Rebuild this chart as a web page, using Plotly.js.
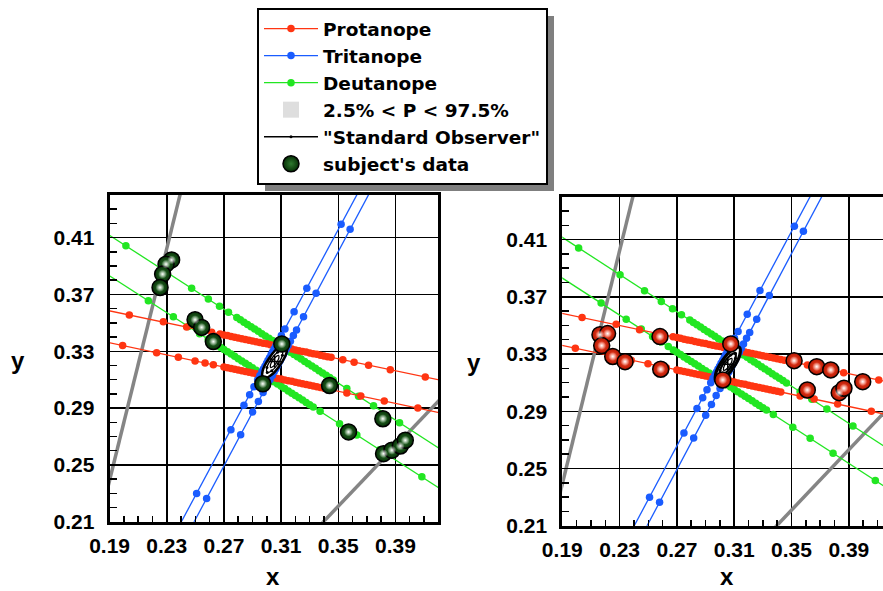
<!DOCTYPE html>
<html><head><meta charset="utf-8">
<script src="https://cdn.plot.ly/plotly-3.0.1.min.js"></script>
<style>html,body{margin:0;padding:0;overflow:hidden;background:#fff}#chart{width:895px;height:591px}</style>
</head><body><div id="chart"></div><script>
// ---------------- data ----------------
const protanUpperX = [0.18, 0.2038, 0.2276, 0.2439, 0.2614, 0.2673,
  0.2700,0.2725,0.2750,0.2775,0.2800,0.2825,0.2850,0.2875,0.2900,0.2925,0.2950,0.2975,0.3000,0.3025,0.3050,0.3075,
  0.3100,0.3125,0.3150,0.3175,0.3200,0.3225,0.3250,0.3275,0.3300,0.3325,0.3350,0.3375,0.3400,0.3425,0.3450,
  0.3532, 0.3611, 0.3712, 0.3864, 0.4109, 0.43];
const protanUpperY = [0.3605, 0.3555, 0.3508, 0.3470, 0.3433, 0.3421,
  0.3415,0.3410,0.3404,0.3399,0.3394,0.3388,0.3383,0.3378,0.3373,0.3367,0.3362,0.3357,0.3352,0.3346,0.3341,0.3336,
  0.3331,0.3325,0.3320,0.3315,0.3309,0.3304,0.3299,0.3294,0.3288,0.3283,0.3278,0.3272,0.3267,0.3262,0.3257,
  0.3240, 0.3223, 0.3202, 0.3170, 0.3118, 0.3078];
const protanLowerX = [0.18, 0.1991, 0.2229, 0.2381, 0.2498, 0.2568, 0.2626,
  0.2700,0.2725,0.2750,0.2775,0.2800,0.2825,0.2850,0.2875,0.2900,0.2925,0.2950,0.2975,0.3000,0.3025,0.3050,0.3075,
  0.3100,0.3125,0.3150,0.3175,0.3200,0.3225,0.3250,0.3275,0.3300,0.3325,0.3350,0.3375,0.3400,0.3425,
  0.3560, 0.3658, 0.3822, 0.4057, 0.43];
const protanLowerY = [0.3381, 0.3340, 0.3289, 0.3257, 0.3232, 0.3217, 0.3205,
  0.3189,0.3184,0.3178,0.3173,0.3168,0.3162,0.3157,0.3152,0.3146,0.3141,0.3136,0.3130,0.3125,0.3120,0.3114,0.3109,
  0.3104,0.3098,0.3093,0.3088,0.3082,0.3077,0.3072,0.3066,0.3061,0.3056,0.3050,0.3045,0.3040,0.3034,
  0.3006, 0.2985, 0.2950, 0.2900, 0.2848];

const tritanLeftX = [0.2349, 0.2509, 0.2749, 0.2840, 0.2880, 0.2910, 0.2936, 0.2952, 0.2966, 0.2976, 0.2987, 0.2998,
  0.3008, 0.3019, 0.3030, 0.3040, 0.3051, 0.3064, 0.3080, 0.3102, 0.3127, 0.3191, 0.3280, 0.3520, 0.3683];
const tritanLeftY = [0.20, 0.2299, 0.2748, 0.2919, 0.2994, 0.3050, 0.3100, 0.3130, 0.3155, 0.3175, 0.3195, 0.3215,
  0.3235, 0.3255, 0.3275, 0.3295, 0.3315, 0.3340, 0.3370, 0.3410, 0.3457, 0.3578, 0.3744, 0.4194, 0.45];
const tritanRightX = [0.2439, 0.2579, 0.2817, 0.2901, 0.2941, 0.2974, 0.3001, 0.3022, 0.3038, 0.3051, 0.3062, 0.3072,
  0.3083, 0.3094, 0.3104, 0.3115, 0.3125, 0.3136, 0.3149, 0.3165, 0.3186, 0.3208, 0.3257, 0.3345, 0.3583, 0.3764];
const tritanRightY = [0.20, 0.2264, 0.2713, 0.2872, 0.2947, 0.3010, 0.3060, 0.3100, 0.3130, 0.3155, 0.3175, 0.3195,
  0.3215, 0.3235, 0.3255, 0.3275, 0.3295, 0.3315, 0.3340, 0.3370, 0.3410, 0.3450, 0.3543, 0.3709, 0.4158, 0.45];

const deutanUpperX = [0.18, 0.2014, 0.2303, 0.2474, 0.2591, 0.2669, 0.2732, 0.2790,
  0.2815,0.2840,0.2865,0.2890,0.2915,0.2940,0.2965,0.2990,0.3015,0.3040,0.3065,0.3090,0.3115,0.3140,
  0.3165,0.3190,0.3215,0.3240,0.3265,0.3290,0.3315,0.3340,0.3365,0.3390,0.3415,0.3440,0.3465,
  0.3560, 0.3642, 0.3747, 0.3929, 0.43];
const deutanUpperY = [0.4181, 0.4042, 0.3854, 0.3743, 0.3667, 0.3616, 0.3575, 0.3538,
  0.3521,0.3505,0.3489,0.3472,0.3456,0.3440,0.3424,0.3407,0.3391,0.3375,0.3359,0.3342,0.3326,0.3310,
  0.3293,0.3277,0.3261,0.3245,0.3228,0.3212,0.3196,0.3180,0.3163,0.3147,0.3131,0.3115,0.3098,
  0.3037, 0.2984, 0.2916, 0.2797, 0.2556];
const deutanLowerX = [0.18, 0.2171, 0.2346, 0.2451, 0.2530, 0.2590, 0.2640,
  0.2675,0.2700,0.2725,0.2750,0.2775,0.2800,0.2825,0.2850,0.2875,0.2900,0.2925,0.2950,0.2975,0.3000,
  0.3025,0.3050,0.3075,0.3100,0.3125,0.3150,0.3175,0.3200,0.3225,0.3250,0.3275,0.3300,0.3325,
  0.3373, 0.3509, 0.3630, 0.3790, 0.4085, 0.43];
const deutanLowerY = [0.3896, 0.3656, 0.3543, 0.3475, 0.3423, 0.3384, 0.3352,
  0.3329,0.3313,0.3297,0.3280,0.3264,0.3248,0.3232,0.3216,0.3199,0.3183,0.3167,0.3151,0.3135,0.3118,
  0.3102,0.3086,0.3070,0.3054,0.3037,0.3021,0.3005,0.2989,0.2973,0.2956,0.2940,0.2924,0.2908,
  0.2877, 0.2789, 0.2711, 0.2607, 0.2416, 0.2276];

const boundSteepX = [0.185, 0.245];
const boundSteepY = [0.2188, 0.4634];
const boundLowX = [0.33, 0.43];
const boundLowY = [0.1998, 0.3053];

const ellOuterX = [0.3136,0.3139,0.3093,0.3024,0.2974,0.2971,0.3017,0.3086,0.3136];
const ellOuterY = [0.3347,0.3294,0.3203,0.3127,0.3109,0.3162,0.3253,0.3330,0.3347];
const ellMidX = [0.3107,0.3109,0.3079,0.3035,0.3003,0.3001,0.3031,0.3075,0.3107];
const ellMidY = [0.3305,0.3271,0.3212,0.3163,0.3151,0.3185,0.3244,0.3293,0.3305];
const ellInnerX = [0.3083,0.3084,0.3068,0.3044,0.3027,0.3026,0.3042,0.3066,0.3083];
const ellInnerY = [0.3270,0.3251,0.3219,0.3193,0.3186,0.3205,0.3237,0.3263,0.3270];
const centerX = [0.3055];
const centerY = [0.3228];

const subjLeftX = [0.2334, 0.2295, 0.2271, 0.2253, 0.2498, 0.2544, 0.2626, 0.3105, 0.2972, 0.3439, 0.3572, 0.3812, 0.3817, 0.3875, 0.3934, 0.3969];
const subjLeftY = [0.3943, 0.3913, 0.3843, 0.3749, 0.3522, 0.3468, 0.3368, 0.3351, 0.3071, 0.3059, 0.2732, 0.2825, 0.2579, 0.2603, 0.2633, 0.2673];
const subjRightX = [0.2163, 0.2216, 0.2175, 0.2252, 0.2338, 0.2582, 0.2587, 0.3076, 0.3020, 0.3518, 0.3676, 0.3774, 0.3610, 0.3833, 0.3866, 0.3997];
const subjRightY = [0.3435, 0.3443, 0.3359, 0.3283, 0.3247, 0.3422, 0.3194, 0.3371, 0.3119, 0.3254, 0.3212, 0.3189, 0.3049, 0.3030, 0.3061, 0.3107];

const xTickStart = 0.19, yTickStart = 0.21, majorStep = 0.04, minorStep = 0.01;
const xRange = [0.19, 0.42], yRange = [0.21, 0.44];

// ---------------- drawing ----------------
const W = 895, H = 591;
const FONT = 'Liberation Sans, Arial, Helvetica, sans-serif';
const LFONT = 'DejaVu Sans, Liberation Sans, sans-serif';
const RED = '#ff3512', BLUE = '#1a5cff', GREEN = '#22e622';
const px = v => v / W, py = v => 1 - v / H;

function panel(xa, ya, left) {
  const t = [];
  const lm = (x, y, color, name, show, rank) => ({
    x, y, xaxis: xa, yaxis: ya, type: 'scatter', mode: 'lines+markers', name,
    showlegend: show, legendrank: rank, cliponaxis: true,
    line: {color, width: 1.3}, marker: {color, size: 7.5}, hoverinfo: 'skip'
  });
  t.push({x: boundSteepX, y: boundSteepY, xaxis: xa, yaxis: ya, mode: 'lines', showlegend: false,
          line: {color: '#858585', width: 3.5}, hoverinfo: 'skip'});
  t.push({x: boundLowX, y: boundLowY, xaxis: xa, yaxis: ya, mode: 'lines', showlegend: false,
          line: {color: '#858585', width: 3.5}, hoverinfo: 'skip'});
  t.push(lm(deutanUpperX, deutanUpperY, GREEN, 'Deutanope', left, 3));
  t.push(lm(deutanLowerX, deutanLowerY, GREEN, 'Deutanope', false, 3));
  t.push(lm(protanUpperX, protanUpperY, RED, 'Protanope', left, 1));
  t.push(lm(protanLowerX, protanLowerY, RED, 'Protanope', false, 1));
  t.push(lm(tritanLeftX, tritanLeftY, BLUE, 'Tritanope', left, 2));
  t.push(lm(tritanRightX, tritanRightY, BLUE, 'Tritanope', false, 2));
  t.push({x: ellOuterX, y: ellOuterY, xaxis: xa, yaxis: ya, mode: 'lines', fill: 'toself', fillcolor: '#ffffff',
          showlegend: false, line: {color: '#000', width: left ? 2.5 : 3.2, shape: 'spline'}, hoverinfo: 'skip'});
  t.push({x: ellMidX, y: ellMidY, xaxis: xa, yaxis: ya, mode: 'lines+markers', name: '"Standard Observer"',
          showlegend: left, legendrank: 5, line: {color: '#000', width: left ? 1.3 : 2.2, shape: 'spline'},
          marker: {color: '#000', size: 3}, hoverinfo: 'skip'});
  t.push({x: ellInnerX, y: ellInnerY, xaxis: xa, yaxis: ya, mode: 'lines', showlegend: false,
          line: {color: '#000', width: 1.3, shape: 'spline'}, hoverinfo: 'skip'});
  t.push({x: centerX, y: centerY, xaxis: xa, yaxis: ya, mode: 'markers', showlegend: false,
          marker: {symbol: 'cross-thin', size: 9, line: {color: '#000', width: 1.5}}, hoverinfo: 'skip'});
  const sx = left ? subjLeftX : subjRightX, sy = left ? subjLeftY : subjRightY;
  const edge = left ? '#052e05' : '#b01500', mid = left ? '#2f7a2f' : '#ff4a2a';
  t.push({x: sx, y: sy, xaxis: xa, yaxis: ya, mode: 'markers', name: "subject's data",
          showlegend: left, legendrank: 6,
          marker: {size: 16, color: edge, gradient: {type: 'radial', color: mid}, line: {color: '#000', width: 1.5}},
          hoverinfo: 'skip'});
  t.push({x: sx, y: sy, xaxis: xa, yaxis: ya, mode: 'markers', showlegend: false,
          marker: {size: 9, color: 'rgba(255,255,255,0)', gradient: {type: 'radial', color: 'rgba(255,255,255,1)'}},
          hoverinfo: 'skip'});
  return t;
}

const traces = [].concat(panel('x', 'y', true), panel('x2', 'y2', false));
traces.push({x: [null], y: [null], mode: 'markers', name: '2.5% < P < 97.5%', legendrank: 4,
             marker: {symbol: 'square', size: 16, color: '#dedede'}, hoverinfo: 'skip'});

function axis(dom, anchor, isX, range) {
  return {
    domain: dom, anchor, range, tick0: isX ? xTickStart : yTickStart, dtick: majorStep,
    showgrid: true, gridcolor: '#000', gridwidth: 1.5, zeroline: false,
    showline: true, linecolor: '#000', linewidth: 3, mirror: true,
    ticks: 'inside', ticklen: isX ? 6 : 7, tickwidth: 1.5, tickcolor: '#000',
    minor: {dtick: minorStep, tick0: isX ? xTickStart : yTickStart, ticks: 'inside', ticklen: isX ? 6 : 7,
            tickwidth: 1.5, tickcolor: '#000', showgrid: false},
    tickformat: '.2f', ticklabelstandoff: isX ? 3 : 8,
    tickfont: {family: FONT, size: 21, weight: 'bold', color: '#000'}, fixedrange: true
  };
}

const ttl = (text, x, y, size) => ({text, x: px(x), y: py(y), xref: 'paper', yref: 'paper', showarrow: false,
  xanchor: 'center', yanchor: 'middle', font: {family: FONT, size, weight: 'bold', color: '#000'}});

const layout = {
  width: W, height: H, margin: {l: 0, r: 0, t: 0, b: 0},
  paper_bgcolor: '#fff', plot_bgcolor: '#fff', showlegend: true,
  xaxis: axis([px(109.6), px(438.3)], 'y', true, xRange),
  yaxis: axis([py(521.7), py(195)], 'x', false, yRange),
  xaxis2: axis([px(562.3), px(891.8)], 'y2', true, xRange),
  yaxis2: axis([py(525.7), py(196.7)], 'x2', false, yRange),
  legend: {x: px(257), y: py(8), xanchor: 'left', yanchor: 'top', bgcolor: '#fff', bordercolor: '#000',
           borderwidth: 2, itemwidth: 54, traceorder: 'normal',
           font: {family: LFONT, size: 18.5, weight: 'bold', color: '#000'}},
  shapes: [{type: 'rect', xref: 'paper', yref: 'paper', x0: px(265), x1: px(556), y0: py(188), y1: py(16),
            fillcolor: '#7f7f7f', line: {width: 0}, layer: 'below'}],
  annotations: [ttl('x', 273, 576, 24), ttl('y', 18, 360, 24), ttl('x', 727, 576, 24), ttl('y', 474, 362, 24)]
};

const gd = document.getElementById('chart');
Plotly.newPlot(gd, traces, layout, {displayModeBar: false, staticPlot: true}).then(() => {
  // place the drop shadow from the legend box's rendered size
  const bg = gd.querySelector('.legend .bg');
  if (!bg) return;
  const r = bg.getBoundingClientRect(), g = gd.getBoundingClientRect();
  const L = r.left - g.left, T = r.top - g.top, R = r.right - g.left, B = r.bottom - g.top;
  return Plotly.relayout(gd, {'shapes[0].x0': px(L + 7), 'shapes[0].x1': px(R + 7),
                              'shapes[0].y0': py(B + 7), 'shapes[0].y1': py(T + 7)});
});
</script></body></html>
